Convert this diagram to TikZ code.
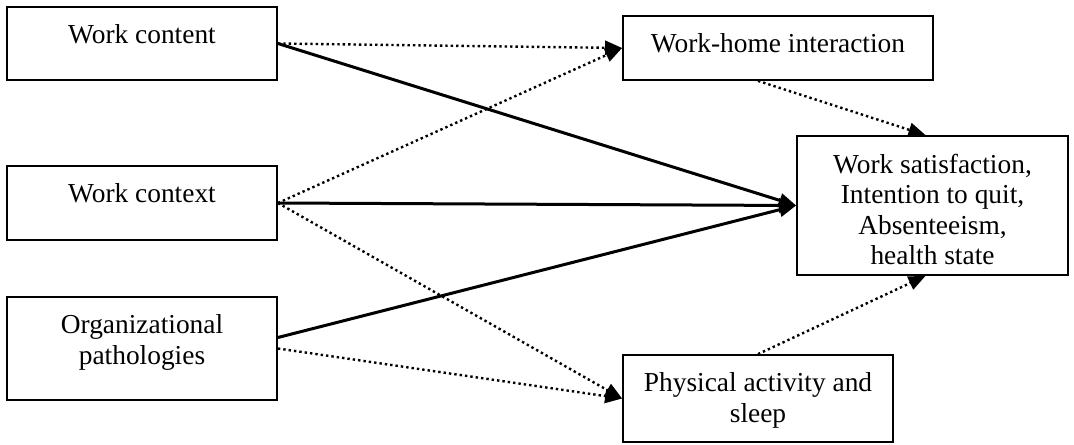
\documentclass[tikz,border=0pt]{standalone}
\usepackage{fontspec}
\setmainfont{Liberation Serif}
\usetikzlibrary{arrows.meta,calc}
\begin{document}
\begin{tikzpicture}[x=0.5pt,y=-0.5pt,
  box/.style={draw,line width=0.9pt,inner sep=0pt,fill=white},
  txt/.style={anchor=north,inner sep=0pt,yshift=-9.2pt,align=center,
    font=\fontsize{13.7}{15.3}\selectfont},
  solidarrow/.style={line width=1.5pt,-{Triangle[length=8.5pt,width=7pt]}},
  dotarrow/.style={line width=1.2pt,dash pattern=on 1.2pt off 1.5pt,-{Triangle[length=8.5pt,width=7pt]}}]
\useasboundingbox (0,0) rectangle (1074,444);
\node[box,minimum width=135pt,minimum height=36.5pt,
  label={[txt]north:Work content}] (wc) at (142,43.5) {};
\node[box,minimum width=135pt,minimum height=37pt,
  label={[txt]north:Work context}] (wx) at (142,203) {};
\node[box,minimum width=135pt,minimum height=51.5pt,
  label={[txt]north:Organizational\\pathologies}] (org) at (142,348.5) {};
\node[box,minimum width=155pt,minimum height=32pt,
  label={[txt]north:Work-home interaction}] (wh) at (778,48) {};
\node[box,minimum width=135.5pt,minimum height=69.5pt,
  label={[txt]north:Work satisfaction,\\Intention to quit,\\Absenteeism,\\health state}] (out) at (932.5,205.5) {};
\node[box,minimum width=135pt,minimum height=43.5pt,
  label={[txt]north:Physical activity and\\sleep}] (pa) at (758,398.5) {};
\draw[dotarrow] (wc.east) -- (wh.west);
\draw[solidarrow] (wc.east) -- (out.west);
\draw[dotarrow] (wx.east) -- (wh.west);
\draw[solidarrow] (wx.east) -- (out.west);
\draw[dotarrow] (wx.east) -- (pa.west);
\draw[solidarrow] ($(org.east)+(0,-11)$) -- (out.west);
\draw[dotarrow] (org.east) -- (pa.west);
\draw[dotarrow] (wh.south -| pa.north) -- ($(out.north)+(-7,0)$);
\draw[dotarrow] (pa.north) -- ($(out.south)+(-7,0)$);
\end{tikzpicture}
\end{document}
